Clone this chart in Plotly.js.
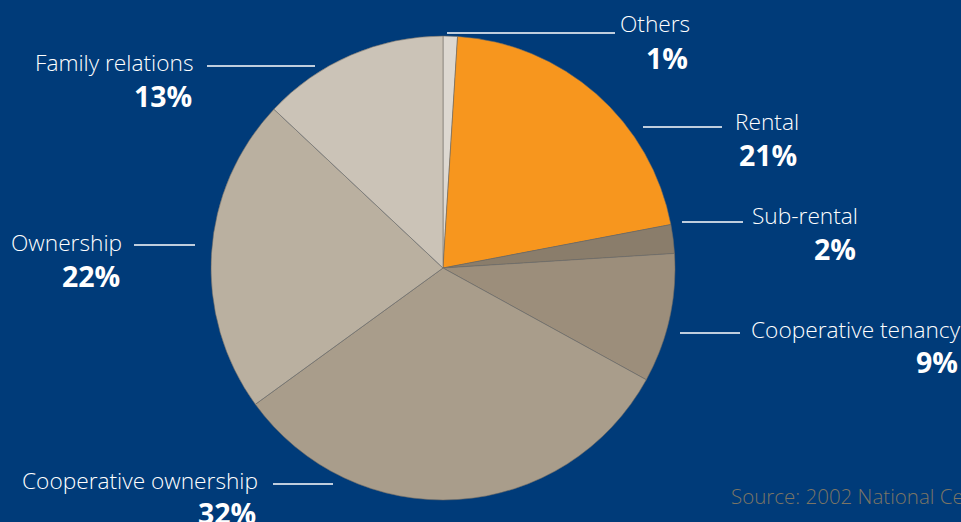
<!DOCTYPE html>
<html>
<head>
<meta charset="utf-8">
<script src="https://cdn.plot.ly/plotly-3.0.1.min.js"></script>
<style>html,body{margin:0;padding:0;background:#003B79;}#chart{width:961px;height:522px;}</style>
</head>
<body>
<div id="chart"></div>
<script>
// Data (clockwise from 12 o'clock)
const categories = ["Others", "Rental", "Sub-rental", "Cooperative tenancy", "Cooperative ownership", "Ownership", "Family relations"];
const shares = [1, 21, 2, 9, 32, 22, 13];
const sliceColors = ["#DDD8D1", "#F7961E", "#8A7D6B", "#9C8E7B", "#A99D8B", "#BAB0A0", "#CBC3B7"];
const sourceNote = "Source: 2002 National Census";

// Layout helpers (pixel positions of label blocks and leader lines)
const W = 961, H = 522;
const px = x => x / W, py = y => 1 - y / H;
const labelPos = {
  "Others":               {lx: 692, ly: 24,  px: 690, py: 58,  line: [447, 615, 33]},
  "Rental":               {lx: 801, ly: 122, px: 799, py: 155, line: [643, 722, 127]},
  "Sub-rental":           {lx: 860, ly: 216, px: 858, py: 249, line: [682, 743, 222]},
  "Cooperative tenancy":  {lx: 749, ly: 329, px: 960, py: 362, line: [680, 740, 333], leftAnchor: true},
  "Cooperative ownership":{lx: 260, ly: 480, px: 258, py: 513, line: [273, 333, 484]},
  "Ownership":            {lx: 124, ly: 243, px: 122, py: 276, line: [134, 195, 245]},
  "Family relations":     {lx: 195, ly: 62,  px: 194, py: 96,  line: [207, 315, 66]}
};

const annotations = [];
const shapes = [];
categories.forEach((c, i) => {
  const p = labelPos[c];
  annotations.push({
    xref: 'paper', yref: 'paper', x: px(p.lx), y: py(p.ly),
    xanchor: p.leftAnchor ? 'left' : 'right', yanchor: 'middle',
    text: c, showarrow: false,
    font: {family: '"Open Sans", "Noto Sans", sans-serif', size: 22.7, color: '#FFFFFF', weight: 300}
  });
  annotations.push({
    xref: 'paper', yref: 'paper', x: px(p.px), y: py(p.py),
    xanchor: 'right', yanchor: 'middle',
    text: shares[i] + '%', showarrow: false,
    font: {family: '"Open Sans", "Noto Sans", sans-serif', size: 28.5, color: '#FFFFFF', weight: 700}
  });
  shapes.push({
    type: 'line', xref: 'paper', yref: 'paper',
    x0: px(p.line[0]), x1: px(p.line[1]), y0: py(p.line[2]), y1: py(p.line[2]),
    line: {color: '#FFFFFF', width: 1.3}
  });
});
annotations.push({
  xref: 'paper', yref: 'paper', x: px(729), y: py(496),
  xanchor: 'left', yanchor: 'middle', text: sourceNote, showarrow: false,
  font: {family: '"Open Sans", "Noto Sans", sans-serif', size: 20.5, color: '#7B7565', weight: 300}
});

const trace = {
  type: 'pie',
  labels: categories,
  values: shares,
  marker: {colors: sliceColors, line: {color: 'rgba(110,105,100,0.55)', width: 1}},
  sort: false,
  direction: 'clockwise',
  rotation: 0,
  textinfo: 'none',
  hoverinfo: 'label+percent',
  domain: {x: [px(211), px(675)], y: [py(500), py(36)]}
};

const layout = {
  width: W, height: H,
  margin: {l: 0, r: 0, t: 0, b: 0},
  paper_bgcolor: '#003B79',
  plot_bgcolor: '#003B79',
  showlegend: false,
  annotations: annotations,
  shapes: shapes
};

Plotly.newPlot('chart', [trace], layout, {displayModeBar: false, staticPlot: true});
</script>
</body>
</html>
